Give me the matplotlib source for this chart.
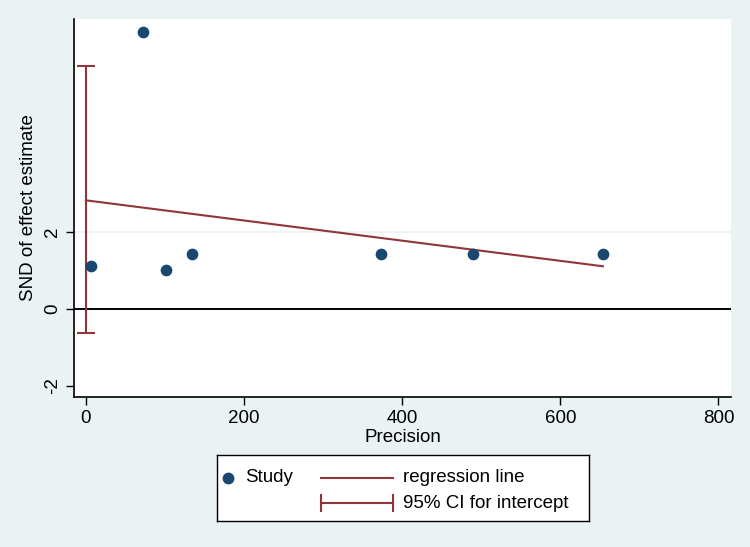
import numpy as np
import matplotlib
matplotlib.use("Agg")
from matplotlib import pyplot as plt

plt.rcParams["font.family"] = ["Liberation Sans", "DejaVu Sans"]
plt.rcParams["axes.unicode_minus"] = False

# study points
precision = [6, 72, 101, 134, 373, 490, 654]
snd = [1.11, 7.23, 1.01, 1.43, 1.43, 1.43, 1.43]

# regression line and CI for intercept
intercept = 2.83
slope = -0.00263
ci_low, ci_high = -0.63, 6.34

bg = "#eaf2f3"
navy = "#1a476f"
maroon = "#90353b"
fs = 13.5

fig = plt.figure(figsize=(7.5, 5.47), dpi=100, facecolor=bg)
ax = fig.add_axes([0.0987, 0.2742, 0.876, 0.6911])
ax.set_facecolor("white")

ax.axhline(2, color="#eaf2f3", lw=1.2, zorder=0)
ax.axhline(0, color="black", lw=1.4, zorder=1)

ax.scatter(precision, snd, s=55, color=navy, zorder=3)

xl = np.array([0, max(precision)])
ax.plot(xl, intercept + slope * xl, color=maroon, lw=1.5, zorder=2)
ax.errorbar([0], [(ci_low + ci_high) / 2], yerr=[[(ci_high - ci_low) / 2]],
            fmt="none", ecolor=maroon, elinewidth=1.5, capsize=6.5, capthick=1.5, zorder=2)

ax.set_xlim(-15, 816)
ax.set_ylim(-2.3, 7.56)
ax.set_xticks([0, 200, 400, 600, 800])
ax.set_yticks([-2, 0, 2])
ax.tick_params(labelsize=fs, length=6, width=1, colors="black")
for lab in ax.get_yticklabels():
    lab.set_rotation(90)
    lab.set_va("center")
ax.set_xlabel("Precision", fontsize=fs, labelpad=1)
ax.set_ylabel("SND of effect estimate", fontsize=fs, labelpad=5)
for s in ["top", "right"]:
    ax.spines[s].set_visible(False)
for s in ["left", "bottom"]:
    ax.spines[s].set_linewidth(1.2)

# legend box drawn by hand, Stata style
lax = fig.add_axes([217 / 750, 1 - 521 / 547, 372 / 750, 66 / 547])
lax.set_xlim(217, 589)
lax.set_ylim(521, 455)
lax.set_xticks([])
lax.set_yticks([])
lax.set_facecolor("white")
for s in lax.spines.values():
    s.set_linewidth(1)
lax.plot([228], [478], "o", color=navy, ms=7.5)
lax.text(245, 478, "Study", fontsize=fs, va="center")
lax.plot([321, 393], [478, 478], color=maroon, lw=1.5)
lax.text(403, 478, "regression line", fontsize=fs, va="center")
lax.plot([321, 393], [503, 503], color=maroon, lw=1.5)
lax.plot([321, 321], [495, 511], color=maroon, lw=1.5)
lax.plot([393, 393], [495, 511], color=maroon, lw=1.5)
lax.text(403, 503, "95% CI for intercept", fontsize=fs, va="center")

fig.savefig("out.png", dpi=100, facecolor=bg)
